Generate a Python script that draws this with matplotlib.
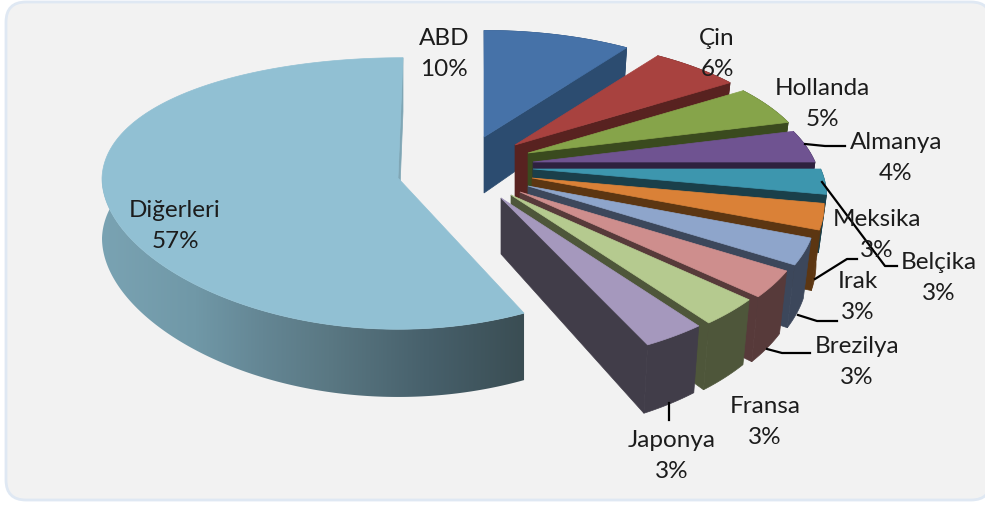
import numpy as np
import matplotlib
matplotlib.use('Agg')
import matplotlib.pyplot as plt
from matplotlib.patches import FancyBboxPatch, Polygon
from matplotlib.colors import to_rgb

# data
names = ['ABD', 'Çin', 'Hollanda', 'Almanya', 'Belçika', 'Meksika', 'Irak', 'Brezilya', 'Fransa', 'Japonya', 'Diğerleri']
shares = [10, 6, 5, 4, 3, 3, 3, 3, 3, 3, 57]

# colours
top_colors = ['#4672a8', '#a8423f', '#86a44a', '#6f5391', '#3d96ae', '#da8137', '#8ea5cb', '#ce8e8d', '#b5ca8f', '#a598bd', '#91c0d3']
side_colors = ['#2c4c70', '#582220', '#3a4a1e', '#2e213f', '#1a3f4a', '#5c3612', '#3c475b', '#573a3a', '#4e563a', '#413d49', '#7fa6b5']

# layout, in picture pixels
apex = [(484, 137), (515, 145), (528, 153), (533, 162), (533, 169), (532, 178), (528, 186), (520, 192), (511, 195), (501, 198), (398, 178)]
reach = [1, 1, 1, 1, 1.02, 1.015, 1, 1, 1, 1, 1]
label_xy = [(444, 54), (717, 54), (822, 104), (896, 158), (939, 278), (877, 235), (858, 297), (857, 362), (765, 422), (672, 456), (175, 226)]
leaders = [
    [(805, 144), (825, 146), (845, 146)],
    [(822, 182), (885, 266), (897, 266)],
    [(815, 279), (847, 259), (857, 259)],
    [(798, 315), (817, 321), (837, 321)],
    [(767, 349), (782, 353), (810, 353)],
    [(669, 403), (669, 420)],
]
grad_x = [100, 195, 262, 328, 428, 525]
grad_c = ['#7aa3b3', '#7098a7', '#648694', '#5a7883', '#47606b', '#3a4d53']


def project(ang, cx, cy, big, r=1):
    u, v = np.cos(ang), np.sin(ang)
    if big:
        s = 1 / (1 + 0.114 * v)
        return cx + 296 * u + 5 * np.maximum(v, 0), cy - 134 * v * s, 60 * s
    sx = 1 / (1 + 0.2 * v)
    sy = 1 / (1 + 0.22 * v)
    return cx + 282 * r * u * sx, cy - 130 * v * sy, 56 * sx


fig = plt.figure(figsize=(9.85, 5.05), dpi=100)
ax = fig.add_axes([0, 0, 1, 1])
ax.axis('off')

ax.add_patch(FancyBboxPatch((6, 2), 985, 498, boxstyle='round,pad=0,rounding_size=20',
                            fc='#f2f2f2', ec='#dfe8f3', lw=2))

# angle limits, clockwise from 12 o'clock
ends = np.cumsum(shares) / sum(shares) * 360
starts = ends - np.array(shares) / sum(shares) * 360
a0 = np.radians(90 - starts)
a1 = np.radians(90 - ends)

# big slice first, the rest clockwise so each one covers the previous wall
order = [10] + list(range(10))
for i in order:
    big = i == 10
    cx, cy = apex[i]
    t = np.linspace(a0[i], a1[i], 300 if big else 80)
    x, y, d = project(t, cx, cy, big, reach[i])
    cdepth = 60 if big else 56
    # small slices lean in towards the bottom
    xb = x if big else x - 0.025 * (x - 500)

    # wall at the clockwise edge
    ax.fill([cx, x[-1], xb[-1], cx], [cy, y[-1], y[-1] + d[-1], cy + cdepth],
            fc=side_colors[i], ec=side_colors[i], lw=0.5, zorder=2)

    # outer wall
    wall = np.c_[np.r_[x, xb[::-1]], np.r_[y, (y + d)[::-1]]]
    if big:
        xs = np.arange(95, 530)
        shade = np.array([[np.interp(xs, grad_x, [to_rgb(c)[k] for c in grad_c]) for k in range(3)]])
        im = ax.imshow(np.moveaxis(shade, [1, 2], [2, 1]), extent=(95, 530, 410, 180), aspect='auto', zorder=2)
        im.set_clip_path(Polygon(wall, transform=ax.transData))
    else:
        ax.fill(wall[:, 0], wall[:, 1], fc=side_colors[i], ec=side_colors[i], lw=0.5, zorder=2)

    # top face
    ax.fill(np.r_[cx, x], np.r_[cy, y], fc=top_colors[i], ec=top_colors[i], lw=0.5, zorder=2)

for pts in leaders:
    ax.plot(*zip(*pts), color='black', lw=1.6, zorder=3)

for name, share, (lx, ly) in zip(names, shares, label_xy):
    ax.text(lx, ly, f'{name}\n{share}%', ha='center', va='center', fontsize=17.5,
            family='Lato', color='#1c1c1c', linespacing=1.55, zorder=4)

ax.set_xlim(0, 985)
ax.set_ylim(505, 0)
fig.savefig('out.png', dpi=100)
